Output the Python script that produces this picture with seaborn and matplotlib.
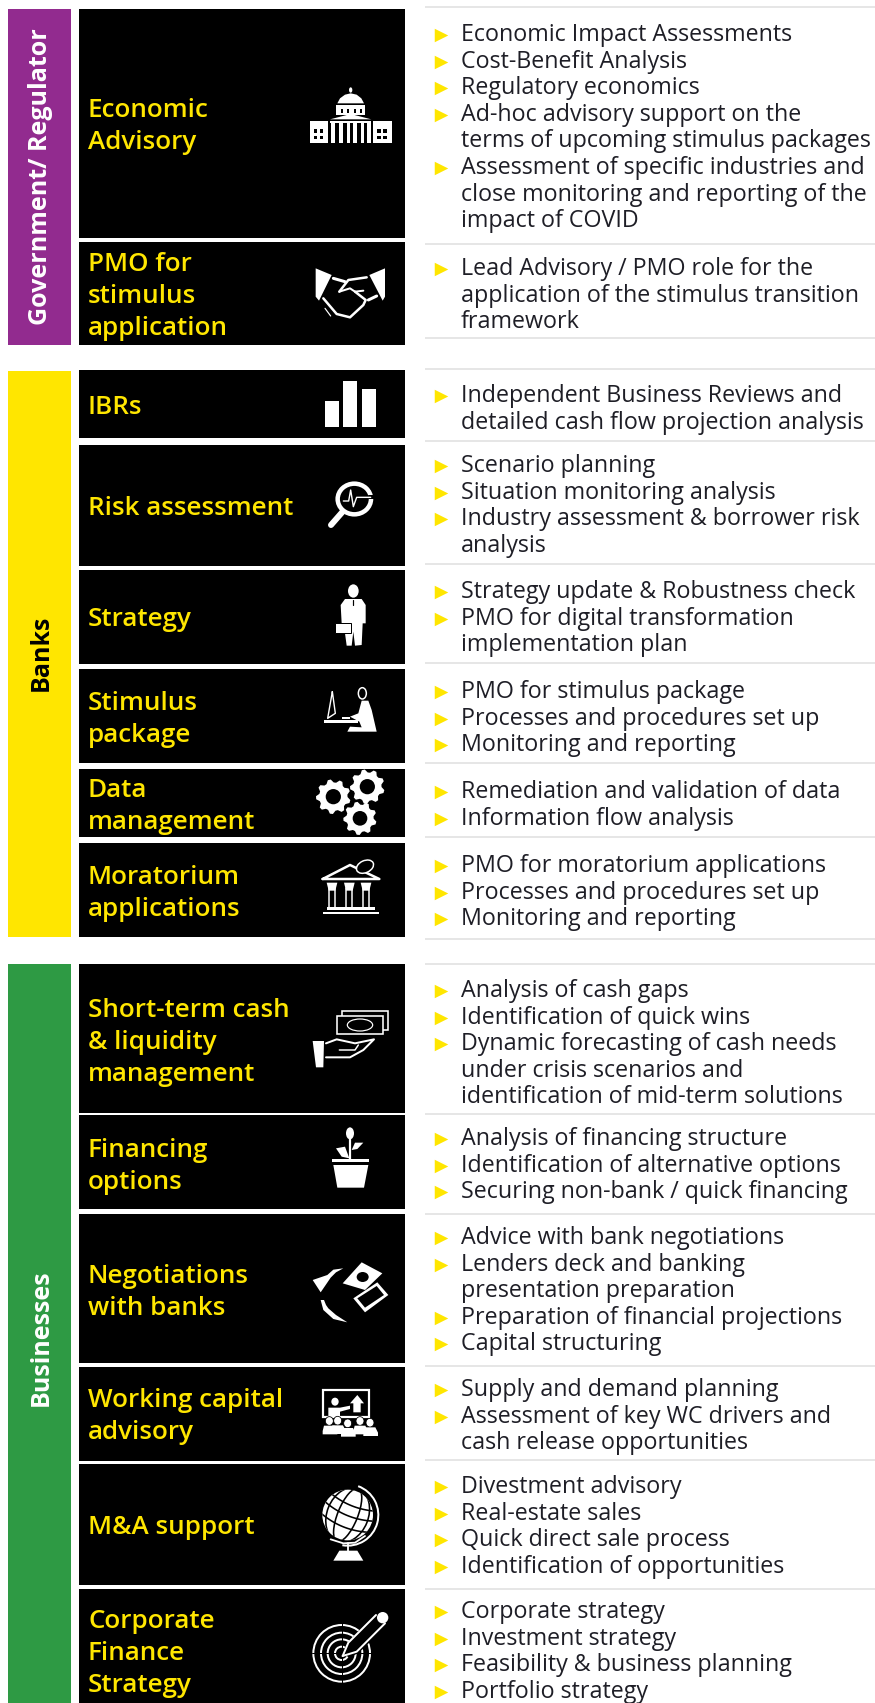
import numpy as np
import pandas as pd
import seaborn as sns
import matplotlib.pyplot as plt
from matplotlib.patches import Polygon, Rectangle, Circle, Ellipse, Arc

# ---- content
groups = ["Government/ Regulator", "Banks", "Businesses"]
group_colors = ["#922B8F", "#FFE600", "#2E9A44"]
group_text_colors = ["white", "black", "white"]

row_labels = [
    ["Economic", "Advisory"],
    ["PMO for", "stimulus", "application"],
    ["IBRs"],
    ["Risk assessment"],
    ["Strategy"],
    ["Stimulus", "package"],
    ["Data", "management"],
    ["Moratorium", "applications"],
    ["Short-term cash", "& liquidity", "management"],
    ["Financing", "options"],
    ["Negotiations", "with banks"],
    ["Working capital", "advisory"],
    ["M&A support"],
    ["Corporate", "Finance", "Strategy"],
]

# each bullet is a list of wrapped lines
row_items = [
    [["Economic Impact Assessments"], ["Cost-Benefit Analysis"], ["Regulatory economics"],
     ["Ad-hoc advisory support on the", "terms of upcoming stimulus packages"],
     ["Assessment of specific industries and", "close monitoring and reporting of the", "impact of COVID"]],
    [["Lead Advisory / PMO role for the", "application of the stimulus transition", "framework"]],
    [["Independent Business Reviews and", "detailed cash flow projection analysis"]],
    [["Scenario planning"], ["Situation monitoring analysis"], ["Industry assessment & borrower risk", "analysis"]],
    [["Strategy update & Robustness check"], ["PMO for digital transformation", "implementation plan"]],
    [["PMO for stimulus package"], ["Processes and procedures set up"], ["Monitoring and reporting"]],
    [["Remediation and validation of data"], ["Information flow analysis"]],
    [["PMO for moratorium applications"], ["Processes and procedures set up"], ["Monitoring and reporting"]],
    [["Analysis of cash gaps"], ["Identification of quick wins"],
     ["Dynamic forecasting of cash needs", "under crisis scenarios and", "identification of mid-term solutions"]],
    [["Analysis of financing structure"], ["Identification of alternative options"], ["Securing non-bank / quick financing"]],
    [["Advice with bank negotiations"], ["Lenders deck and banking", "presentation preparation"],
     ["Preparation of financial projections"], ["Capital structuring"]],
    [["Supply and demand planning"], ["Assessment of key WC drivers and", "cash release opportunities"]],
    [["Divestment advisory"], ["Real-estate sales"], ["Quick direct sale process"], ["Identification of opportunities"]],
    [["Corporate strategy"], ["Investment strategy"], ["Feasibility & business planning"], ["Portfolio strategy"]],
]

# ---- layout, figure pixels
group_top = [9, 371, 964]
group_bottom = [345, 937, 1703]
group_label_y = [177, 653, 1338]
row_top = [9, 242, 370, 445, 570, 669, 769, 843, 964, 1115, 1214, 1367, 1464, 1589]
row_bottom = [238, 345, 438, 566, 664, 763, 837, 937, 1113, 1209, 1363, 1461, 1585, 1703]
label_first_y = [108, 262, 405, 506, 617, 701, 788, 875, 1008, 1148, 1274, 1398, 1525, 1619]
item_first_y = [33, 267, 394, 464, 590, 690, 790, 864, 989, 1137, 1236, 1388, 1485, 1610]
dividers = [7, 244, 338, 369, 441, 564, 663, 763, 837, 939, 964, 1114, 1214, 1366, 1460, 1589]
line_pitch = 26.6
label_pitch = 32

BODY_FONT = "Open Sans"
BODY_PX = 23.3
LABEL_PX = 26
WHITE = "white"

sns.set_theme(style="white")
plt.rcParams["font.family"] = [BODY_FONT, "DejaVu Sans"]

fig = plt.figure(figsize=(8.75, 17.03), dpi=100)
ax = fig.add_axes([0, 0, 1, 1])


def px(size):
    return size * 0.72


# ---- bullets first, seaborn resets nothing we care about after this
bullet_rows = []
for first_y, items in zip(item_first_y, row_items):
    n = 0
    for item in items:
        bullet_rows.append({"x": 441, "y": first_y + n * line_pitch + 2})
        n += len(item)
bullets = pd.DataFrame(bullet_rows)
sns.scatterplot(data=bullets, x="x", y="y", marker=">", color="#FFE600", s=px(13.5) ** 2, linewidth=0, ax=ax, zorder=3)

# ---- blocks
tops, bottoms = np.array(group_top), np.array(group_bottom)
ax.barh(tops, 63, height=bottoms - tops, left=8, align="edge", color=group_colors, linewidth=0)
tops, bottoms = np.array(row_top), np.array(row_bottom)
ax.barh(tops, 326, height=bottoms - tops, left=79, align="edge", color="black", linewidth=0)
ax.hlines(dividers, 425, 875, color="#E6E6E6", linewidth=px(2))

for name, text_color, label_y in zip(groups, group_text_colors, group_label_y):
    ax.text(41, label_y, name, rotation=90, ha="center", va="center", color=text_color,
            fontsize=px(25), fontweight="bold", family=["Open Sans", "DejaVu Sans"])

for lines, first_y in zip(row_labels, label_first_y):
    for i, line_text in enumerate(lines):
        ax.text(88, first_y + i * label_pitch + 9, line_text, color="#FFE600", fontsize=px(LABEL_PX), va="baseline",
                fontweight="semibold")

for items, first_y in zip(row_items, item_first_y):
    n = 0
    for item in items:
        for line_text in item:
            ax.text(461, first_y + n * line_pitch + 8, line_text, color="#1E1E26", fontsize=px(BODY_PX), va="baseline")
            n += 1


def pts(o, p):
    return [(o[0] + x / 3, o[1] + y / 3) for x, y in p]


def poly(o, p, color=WHITE, z=4):
    ax.add_patch(Polygon(pts(o, p), closed=True, facecolor=color, edgecolor="none", zorder=z))


def line(o, p, w=2, color=WHITE, z=5):
    xy = np.array(pts(o, p))
    return ax.plot(xy[:, 0], xy[:, 1], color=color, linewidth=px(w), zorder=z, solid_capstyle="round",
                   solid_joinstyle="round")[0]


def rect(o, x0, y0, x1, y1, color=WHITE, z=4):
    ax.add_patch(Rectangle((o[0] + x0 / 3, o[1] + y0 / 3), (x1 - x0) / 3, (y1 - y0) / 3, facecolor=color,
                           edgecolor="none", zorder=z))


def box(o, x0, y0, x1, y1, w=2, z=5, fill="black", edge=WHITE):
    ax.add_patch(Rectangle((o[0] + x0 / 3, o[1] + y0 / 3), (x1 - x0) / 3, (y1 - y0) / 3, facecolor=fill,
                           edgecolor=edge, linewidth=px(w), zorder=z))


def oval(o, x, y, rx, ry, fill=WHITE, edge="none", w=0, z=5, angle=0):
    ax.add_patch(Ellipse((o[0] + x / 3, o[1] + y / 3), 2 * rx / 3, 2 * ry / 3, angle=angle, facecolor=fill,
                         edgecolor=edge, linewidth=px(w), zorder=z))


def gear(o, x, y, r, teeth=9):
    angles = np.linspace(0, 2 * np.pi, teeth * 4, endpoint=False) + 0.2
    radii = np.tile([r, r, r * 0.82, r * 0.82], teeth)
    poly(o, list(zip(x + radii * np.cos(angles), y + radii * np.sin(angles))))
    oval(o, x, y, r * 0.44, r * 0.44, fill="black")


def capitol():
    o = (300, 80)
    oval(o, 152, 30, 5, 8)
    poly(o, [(112, 70), (120, 55), (135, 44), (152, 40), (170, 44), (184, 55), (192, 70)])
    rect(o, 108, 74, 196, 106)
    for x in (122, 142, 162, 180):
        rect(o, x, 86, x + 6, 100, color="black", z=5)
    poly(o, [(90, 118), (152, 102), (214, 118)])
    rect(o, 90, 122, 214, 130)
    for x0, x1 in ((92, 106), (118, 128), (140, 150), (160, 170), (182, 192), (200, 214)):
        rect(o, x0, 128, x1, 190)
    for x0 in (30, 220):
        rect(o, x0, 122, x0 + 55, 190)
        for dx, dy in ((12, 26), (30, 26), (12, 46), (30, 46)):
            rect(o, x0 + dx, 122 + dy, x0 + dx + 10, 122 + dy + 10, color="black", z=5)


def handshake():
    o = (300, 80)
    poly(o, [(47, 565), (95, 585), (57, 662), (47, 650)])
    poly(o, [(255, 565), (208, 585), (248, 662), (255, 650)])
    line(o, [(100, 595), (135, 605)], 3)
    line(o, [(118, 635), (145, 600), (200, 592)], 2.5)
    line(o, [(118, 635), (150, 625), (165, 635), (190, 632)], 2)
    line(o, [(205, 660), (230, 648)], 3)
    line(o, [(70, 655), (110, 702), (150, 712), (190, 675), (197, 660), (165, 635)], 2.5)
    line(o, [(75, 685), (92, 708)], 1.2)


def bars():
    o = (300, 375)
    rect(o, 74, 77, 116, 157)
    rect(o, 130, 17, 172, 157)
    rect(o, 187, 42, 229, 157)


def magnifier():
    o = (300, 375)
    oval(o, 163, 372, 50, 46, fill="black", edge=WHITE, w=4.5)
    line(o, [(208, 365), (228, 365)], 4, color="black", z=6)
    line(o, [(128, 410), (93, 450)], 6)
    line(o, [(130, 378), (146, 378), (152, 345), (160, 395), (170, 367), (212, 367)], 1.4, z=7)


def businessman():
    o = (300, 375)
    oval(o, 160, 648, 16, 20)
    poly(o, [(135, 672), (185, 672), (197, 690), (197, 745), (188, 745), (185, 810), (165, 812), (160, 770),
             (155, 812), (140, 812), (135, 775), (125, 745), (122, 690)])
    line(o, [(160, 675), (160, 690)], 1.2, color="black")
    box(o, 105, 743, 152, 775, 1, fill=WHITE, edge="black")


def desk_worker():
    o = (300, 670)
    line(o, [(97, 65), (106, 130), (83, 145), (97, 65)], 1.4)
    rect(o, 72, 150, 175, 158)
    rect(o, 125, 140, 150, 146)
    poly(o, [(185, 92), (205, 92), (215, 120), (230, 185), (142, 185), (150, 170), (185, 172), (178, 155), (150, 140),
             (175, 130)])
    oval(o, 187, 70, 12, 17, fill="black", edge=WHITE, w=1.5)


def gears():
    o = (300, 670)
    gear(o, 100, 380, 52)
    gear(o, 202, 350, 52)
    gear(o, 180, 445, 50)


def temple():
    o = (300, 670)
    line(o, [(68, 627), (150, 585), (238, 627), (68, 627)], 2.5)
    oval(o, 195, 590, 27, 18, fill="black", edge=WHITE, w=1.5, angle=-25)
    for x in (80, 132, 182):
        poly(o, [(x, 638), (x + 32, 638), (x + 26, 662), (x + 6, 662)])
        line(o, [(x + 7, 655), (x + 7, 712)], 1.5)
        line(o, [(x + 25, 655), (x + 25, 712)], 1.5)
    rect(o, 80, 712, 225, 720)
    rect(o, 68, 726, 236, 733)


def cash_hand():
    o = (300, 1000)
    box(o, 125, 32, 265, 90, 1.6)
    box(o, 110, 48, 248, 103, 1.6)
    oval(o, 180, 75, 38, 18, fill="black", edge=WHITE, w=1.2, z=6)
    poly(o, [(38, 123), (72, 123), (70, 202), (48, 202)])
    line(o, [(78, 130), (110, 118), (165, 130), (222, 118), (190, 150), (150, 172), (78, 172)], 2)
    line(o, [(118, 150), (165, 150), (175, 135)], 1.5)


def plant():
    o = (300, 1000)
    poly(o, [(100, 495), (205, 495), (192, 563), (112, 563)])
    rect(o, 96, 477, 207, 487)
    line(o, [(150, 410), (150, 478)], 2.2)
    oval(o, 150, 400, 12, 18)
    poly(o, [(108, 445), (135, 440), (148, 475), (125, 470)])
    poly(o, [(190, 428), (165, 428), (155, 450), (172, 447)])


def swap_notes():
    o = (300, 1255)
    poly(o, [(185, 22), (247, 55), (195, 105), (128, 85)])
    oval(o, 188, 66, 18, 15, fill="black", z=5)
    poly(o, [(160, 130), (232, 82), (265, 120), (195, 172)])
    poly(o, [(172, 130), (230, 93), (252, 120), (195, 158)], color="black", z=5)
    poly(o, [(130, 40), (100, 44), (82, 60), (38, 75), (62, 112), (92, 68), (108, 52)])
    poly(o, [(62, 135), (70, 165), (100, 192), (142, 202), (108, 180), (85, 160), (78, 150), (72, 135)])


def presenter():
    o = (300, 1255)
    box(o, 70, 405, 207, 487, 2.2, z=4)
    oval(o, 105, 440, 11, 12)
    poly(o, [(85, 458), (120, 458), (150, 452), (150, 462), (120, 470), (120, 487), (85, 487)], z=5)
    poly(o, [(172, 420), (192, 445), (182, 445), (182, 472), (160, 472), (160, 445), (150, 445)], z=5)
    for x, y in ((88, 498), (113, 497), (143, 505), (180, 498), (210, 503)):
        oval(o, x, y, 12, 13, edge="black", w=0.8, z=6)
        poly(o, [(x - 20, y + 30), (x - 16, y + 14), (x + 16, y + 14), (x + 24, y + 30), (x + 24, y + 40), (x - 20, y + 40)], z=6)


def globe():
    o = (300, 1450)
    cx, cy = 143, 195
    tilt = np.radians(22)
    earth = Circle((o[0] + cx / 3, o[1] + cy / 3), 76 / 3, facecolor=WHITE, edgecolor="none", zorder=4)
    ax.add_patch(earth)
    for rx in (30, 62):
        e = Ellipse((o[0] + cx / 3, o[1] + cy / 3), 2 * rx / 3, 170 / 3, angle=22, facecolor="none",
                    edgecolor="black", linewidth=px(1.6), zorder=5)
        ax.add_patch(e)
        e.set_clip_path(earth)
    u = np.linspace(-90, 90, 25)
    for d in (-40, -8, 28):
        v = d + 0.0022 * (90 ** 2 - u ** 2) - 8
        xs = cx + u * np.cos(tilt) - v * np.sin(tilt)
        ys = cy + u * np.sin(tilt) + v * np.cos(tilt)
        line(o, list(zip(xs, ys)), 1.6, color="black").set_clip_path(earth)
    ax.add_patch(Arc((o[0] + cx / 3, o[1] + cy / 3), 184 / 3, 184 / 3, theta1=-70, theta2=100,
                     color=WHITE, linewidth=px(2), zorder=5))
    line(o, [(92, 268), (130, 280), (165, 278), (195, 258)], 1.8)
    line(o, [(143, 280), (143, 302)], 1.8)
    poly(o, [(118, 302), (172, 302), (190, 332), (100, 332)])


def target():
    o = (300, 1450)
    for r, w in ((85, 2), (62, 2), (42, 2), (20, 2)):
        oval(o, 125, 610, r, r, fill="none", edge=WHITE, w=w)
    line(o, [(125, 520), (125, 700)], 1, color="black", z=6)
    line(o, [(35, 610), (215, 610)], 1, color="black", z=6)
    poly(o, [(128, 605), (145, 575), (225, 490), (262, 525), (175, 610), (145, 622)], color="black", z=6)
    line(o, [(128, 618), (145, 578), (228, 495)], 2, z=7)
    line(o, [(128, 618), (170, 605), (255, 520)], 2, z=7)
    oval(o, 248, 503, 17, 17, z=7)


for draw_icon in (capitol, handshake, bars, magnifier, businessman, desk_worker, gears, temple, cash_hand, plant,
                  swap_notes, presenter, globe, target):
    draw_icon()

ax.set_xlim(0, 875)
ax.set_ylim(1703, 0)
ax.set_axis_off()

plt.savefig("out.png", dpi=100, facecolor="white")
